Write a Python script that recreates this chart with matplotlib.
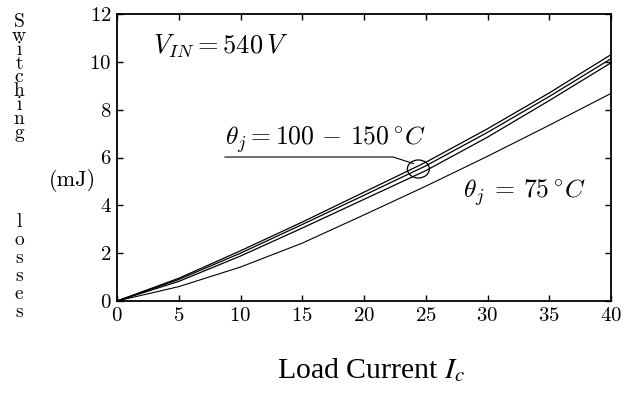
import matplotlib
matplotlib.use("Agg")
import matplotlib.pyplot as plt
from matplotlib.patches import Ellipse

# ---- data ----
load_current = [0, 5, 10, 15, 20, 25, 30, 35, 40]
loss_a = [0, 0.95, 2.10, 3.30, 4.55, 5.80, 7.20, 8.70, 10.30]
loss_b = [0, 0.90, 2.00, 3.20, 4.42, 5.65, 7.05, 8.55, 10.13]
loss_c = [0, 0.82, 1.88, 3.05, 4.25, 5.45, 6.85, 8.38, 9.96]
loss_75 = [0, 0.60, 1.42, 2.42, 3.60, 4.80, 6.05, 7.35, 8.68]
x_ticks = [0, 5, 10, 15, 20, 25, 30, 35, 40]
y_ticks = [0, 2, 4, 6, 8, 10, 12]
ylabel_word1 = "Switching"
ylabel_word2 = "losses"

plt.rcParams['font.family'] = ['cmr10', 'DejaVu Serif']
plt.rcParams['mathtext.fontset'] = 'cm'
plt.rcParams['axes.formatter.use_mathtext'] = True

fig = plt.figure(figsize=(6.26, 3.96), dpi=100)
ax = fig.add_axes([117/626, 1-301/396, (611-117)/626, (301-14)/396])

for series, lw in [(loss_a, 0.9), (loss_b, 0.9), (loss_c, 0.9), (loss_75, 0.8)]:
    ax.plot(load_current, series, color='black', lw=lw)

ax.set_xlim(0, 40)
ax.set_ylim(0, 12)
ax.set_xticks(x_ticks)
ax.set_yticks(y_ticks)
ax.tick_params(direction='in', length=4, width=1, top=True, right=True,
               labelsize=15, pad=4, colors='black')
for s in ax.spines.values():
    s.set_linewidth(1.3)

ax.text(2.9, 10.67, r'$V_{IN} = 540\,V$', fontsize=19, va='center', ha='left')
ax.text(8.74, 6.1, r'$\theta_{j} = 100\,-\,150\,^{\circ}C$', fontsize=18.5,
        va='bottom', ha='left')
ax.plot([8.74, 22.35, 24.0], [6.02, 6.02, 5.75], color='black', lw=0.8)
ax.add_patch(Ellipse((24.4, 5.52), width=22/12.35, height=18/23.9,
                     fill=False, ec='black', lw=0.9))
ax.text(28.0, 4.52, r'$\theta_{j}\;=\,75\,^{\circ}C$', fontsize=18.5,
        va='center', ha='left')

# vertical letter-by-letter y label
fig.text(19/626, 1-13/396, '\n'.join(ylabel_word1), fontsize=14,
         ha='center', va='top', linespacing=0.71)
fig.text(19/626, 1-213/396, '\n'.join(ylabel_word2), fontsize=14,
         ha='center', va='top', linespacing=1.0)
fig.text(72/626, 1-181/396, '(mJ)', fontsize=16, ha='center', va='center')

fig.text(371/626, 1-378/396, r'Load Current $I_c$', fontsize=21.5,
         family='Liberation Serif', math_fontfamily='stix',
         ha='center', va='baseline')

fig.savefig('out.png', dpi=100)
